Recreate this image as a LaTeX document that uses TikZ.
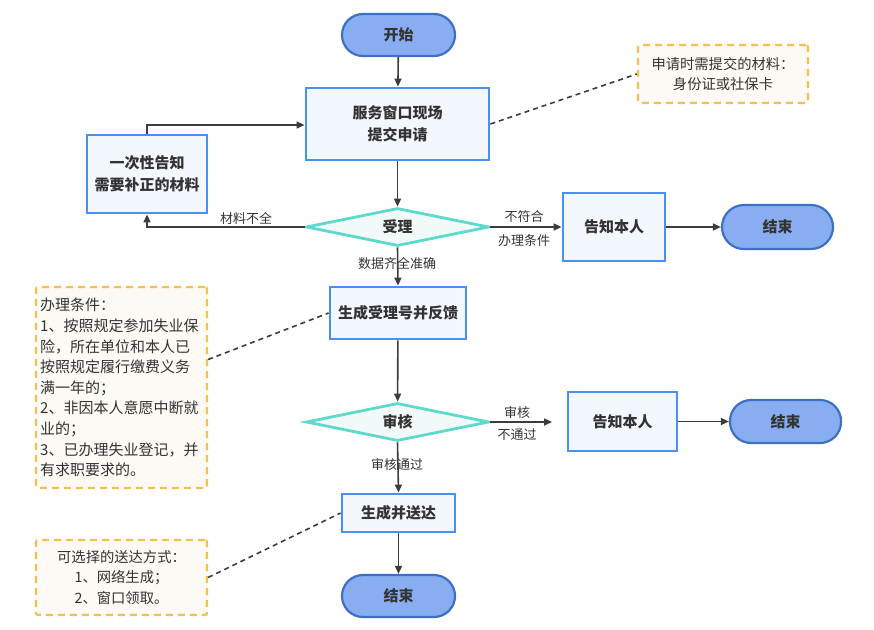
\documentclass[tikz,border=0pt]{standalone}
\usepackage{fontspec}
\setmainfont{Noto Sans CJK SC}
\usetikzlibrary{arrows.meta,shapes.geometric,calc}
\definecolor{txt}{HTML}{333333}
\definecolor{pillfill}{HTML}{88AEF1}
\definecolor{pillline}{HTML}{3D6FC6}
\definecolor{boxfill}{HTML}{F3F7FE}
\definecolor{boxline}{HTML}{4A8FF2}
\definecolor{diafill}{HTML}{F1FAF8}
\definecolor{dialine}{HTML}{5DDACB}
\definecolor{notefill}{HTML}{FDF9F4}
\definecolor{noteline}{HTML}{F6C04C}
\definecolor{arr}{HTML}{3C3C3C}
\begin{document}
\begin{tikzpicture}[x=1pt,y=-1pt,
  every node/.style={text=txt},
  pill/.style={draw=pillline,fill=pillfill,line width=2.2pt,rounded corners=21pt,
    minimum width=113pt,minimum height=42pt,inner sep=0pt,
    font=\bfseries\fontsize{15}{20}\selectfont},
  procbox/.style={draw=boxline,fill=boxfill,line width=2.8pt,inner sep=0pt,
    align=center,font=\bfseries\fontsize{15}{21.5}\selectfont},
  decide/.style={diamond,aspect=4.8,draw=dialine,fill=diafill,line width=2.8pt,
    inner sep=0pt,minimum width=183pt,minimum height=38pt,
    font=\bfseries\fontsize{15}{20}\selectfont},
  notebox/.style={draw=noteline,fill=notefill,line width=2.2pt,
    dash pattern=on 7pt off 5pt,rounded corners=2pt,inner sep=0pt},
  conn/.style={draw=arr,line width=1.6pt,-{Triangle[length=8pt,width=7pt]}},
  dashlink/.style={draw=arr,line width=1.6pt,dash pattern=on 5pt off 4pt},
  elabel/.style={font=\fontsize{13}{16}\selectfont,inner sep=0pt},
  notetext/.style={inner sep=0pt,align=center,font=\fontsize{14.3}{20.5}\selectfont}
]
\useasboundingbox (0,0) rectangle (874,629);

% main nodes
\node[pill] (start) at (398.5,35) {开始};
\node[procbox,minimum width=183pt,minimum height=72pt] (apply) at (397.5,124) {服务窗口现场\\提交申请};
\node[procbox,minimum width=120pt,minimum height=78pt] (inform) at (147,174) {一次性告知\\需要补正的材料};
\node[decide] (accept) at (397.5,227) {受理};
\node[procbox,minimum width=102pt,minimum height=68pt] (tell1) at (614,227) {告知本人};
\node[pill,minimum width=111pt,minimum height=44pt,rounded corners=22pt] (end1) at (777.5,227) {结束};
\node[procbox,minimum width=136pt,minimum height=52pt] (number) at (398,313) {生成受理号并反馈};
\node[decide] (review) at (397.5,422) {审核};
\node[procbox,minimum width=109pt,minimum height=59pt] (tell2) at (622.5,421.5) {告知本人};
\node[pill,minimum width=111pt,minimum height=43pt] (end2) at (785.5,421.5) {结束};
\node[procbox,minimum width=113pt,minimum height=38pt] (deliver) at (398.5,513) {生成并送达};
\node[pill] (end3) at (398.5,596) {结束};

% notes
\node[notebox,minimum width=170pt,minimum height=58pt] (note1) at (723,74) {};
\node[notetext] at (note1.center) {申请时需提交的材料：\\身份证或社保卡};
\node[notebox,minimum width=171pt,minimum height=201pt] (note2) at (121.5,387.5) {};
\node[inner sep=0pt,align=left,font=\fontsize{15}{20.6}\selectfont,anchor=west] at (40,387.5)
 {办理条件：\\1、按照规定参加失业保\\险，所在单位和本人已\\按照规定履行缴费义务\\满一年的；\\2、非因本人意愿中断就\\业的；\\3、已办理失业登记，并\\有求职要求的。};
\node[notebox,minimum width=171pt,minimum height=75pt] (note3) at (121.5,577.5) {};
\node[notetext] at (note3.center) {可选择的送达方式：\\1、网络生成；\\2、窗口领取。};

% connectors
\draw[conn] (start) -- (apply);
\draw[conn] (apply) -- (accept);
\draw[conn] (inform.north) |- ([yshift=-1pt]apply.west);
\draw[conn] (accept.west) -| (inform.south);
\node[elabel] at (246,218) {材料不全};
\draw[conn] (accept.east) -- (tell1.west);
\node[elabel] at (524,217) {不符合};
\node[elabel] at (524,240.5) {办理条件};
\draw[conn] (tell1) -- (end1);
\draw[conn] (accept.south) -- (number.north);
\node[elabel] at (397,263.5) {数据齐全准确};
\draw[conn] (number) -- (review);
\coordinate (rvend) at (552,422);
\draw[conn] (review.east) -- (rvend);
\node[elabel] at (517,413) {审核};
\node[elabel] at (517,435) {不通过};
\draw[conn] (tell2) -- (end2);
\draw[conn] (review.south) -- (deliver.north);
\node[elabel] at (397,465) {审核通过};
\draw[conn] (deliver) -- (end3);

% dashed links
\draw[dashlink] (apply.east) -- (note1.west);
\draw[dashlink] ([yshift=28pt]note2.east) -- (number.west);
\draw[dashlink] (note3.east) -- (deliver.west);
\end{tikzpicture}
\end{document}
